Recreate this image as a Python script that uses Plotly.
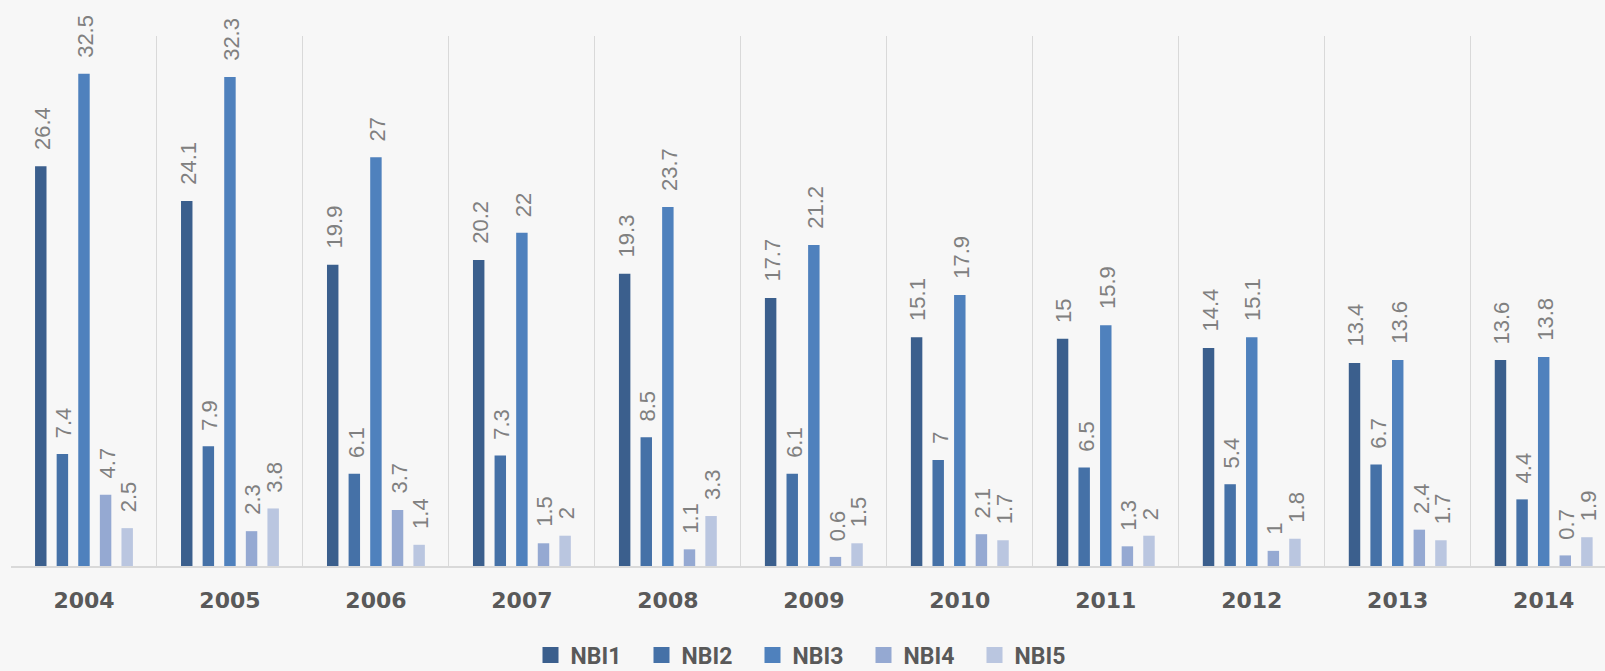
import plotly.graph_objects as go

years = ["2004", "2005", "2006", "2007", "2008", "2009", "2010", "2011", "2012", "2013", "2014"]
series_names = ["NBI1", "NBI2", "NBI3", "NBI4", "NBI5"]
nbi1 = [26.4, 24.1, 19.9, 20.2, 19.3, 17.7, 15.1, 15, 14.4, 13.4, 13.6]
nbi2 = [7.4, 7.9, 6.1, 7.3, 8.5, 6.1, 7, 6.5, 5.4, 6.7, 4.4]
nbi3 = [32.5, 32.3, 27, 22, 23.7, 21.2, 17.9, 15.9, 15.1, 13.6, 13.8]
nbi4 = [4.7, 2.3, 3.7, 1.5, 1.1, 0.6, 2.1, 1.3, 1, 2.4, 0.7]
nbi5 = [2.5, 3.8, 1.4, 2, 3.3, 1.5, 1.7, 2, 1.8, 1.7, 1.9]
series_values = [nbi1, nbi2, nbi3, nbi4, nbi5]
colors = ["#3B5F8D", "#4571A7", "#4F81BD", "#95A9D2", "#BAC6E0"]

W, H = 1605, 671
ML, MR, MT, MB = 11, 0, 36, 105
X_RANGE = [-0.5, 10.42]
BARGAP, BARGROUPGAP = 0.26, 0.47

fig = go.Figure()
n = len(series_names)
cat_px = (W - ML - MR) / (X_RANGE[1] - X_RANGE[0])
slot_px = cat_px * (1 - BARGAP) / n

annotations = []
for i, (name, vals, col) in enumerate(zip(series_names, series_values, colors)):
    fig.add_trace(go.Bar(
        x=years, y=vals, name=name, marker_color=col, marker_line_width=0,
        showlegend=False,
    ))
    # legend entry with a larger square swatch
    fig.add_trace(go.Scatter(
        x=[None], y=[None], mode="markers", name=name,
        marker=dict(symbol="square", size=16, color=col),
    ))
    for j, v in enumerate(vals):
        annotations.append(dict(
            x=j, y=v, xref="x", yref="y", text=f"{v:g}", showarrow=False,
            textangle=-90, yanchor="bottom", xanchor="center",
            xshift=(i - (n - 1) / 2) * slot_px + 1.5, yshift=14,
            font=dict(family="Liberation Sans, Arial, sans-serif", size=22, color="#808080"),
        ))

fig.update_layout(
    width=W, height=H,
    margin=dict(l=ML, r=MR, t=MT, b=MB, autoexpand=False),
    paper_bgcolor="#F7F7F7", plot_bgcolor="#F7F7F7",
    barmode="group", bargap=BARGAP, bargroupgap=BARGROUPGAP,
    showlegend=True,
    annotations=annotations,
    legend=dict(orientation="h", x=0.5, xanchor="center", y=-0.168, yanchor="middle",
                font=dict(family="Roboto, Liberation Sans, sans-serif", size=23, color="#595959", weight="bold"),
                entrywidth=66, entrywidthmode="pixels", itemwidth=30, bgcolor="rgba(0,0,0,0)"),
    xaxis=dict(type="category", range=X_RANGE, tickson="boundaries", automargin=False,
               showgrid=True, gridcolor="#D9D9D9", gridwidth=1.3,
               showline=True, linecolor="#D9D9D9", linewidth=2,
               ticks="", ticklabelstandoff=14,
               tickfont=dict(family="DejaVu Sans, sans-serif", size=22, color="#595959", weight="bold")),
    yaxis=dict(range=[0, 35], showgrid=False, showticklabels=False, zeroline=False, showline=False,
               automargin=False),
)

fig.write_html("out.html", config={"displayModeBar": False},
               post_script="document.body.style.margin='0';document.body.style.background='#F7F7F7';")
